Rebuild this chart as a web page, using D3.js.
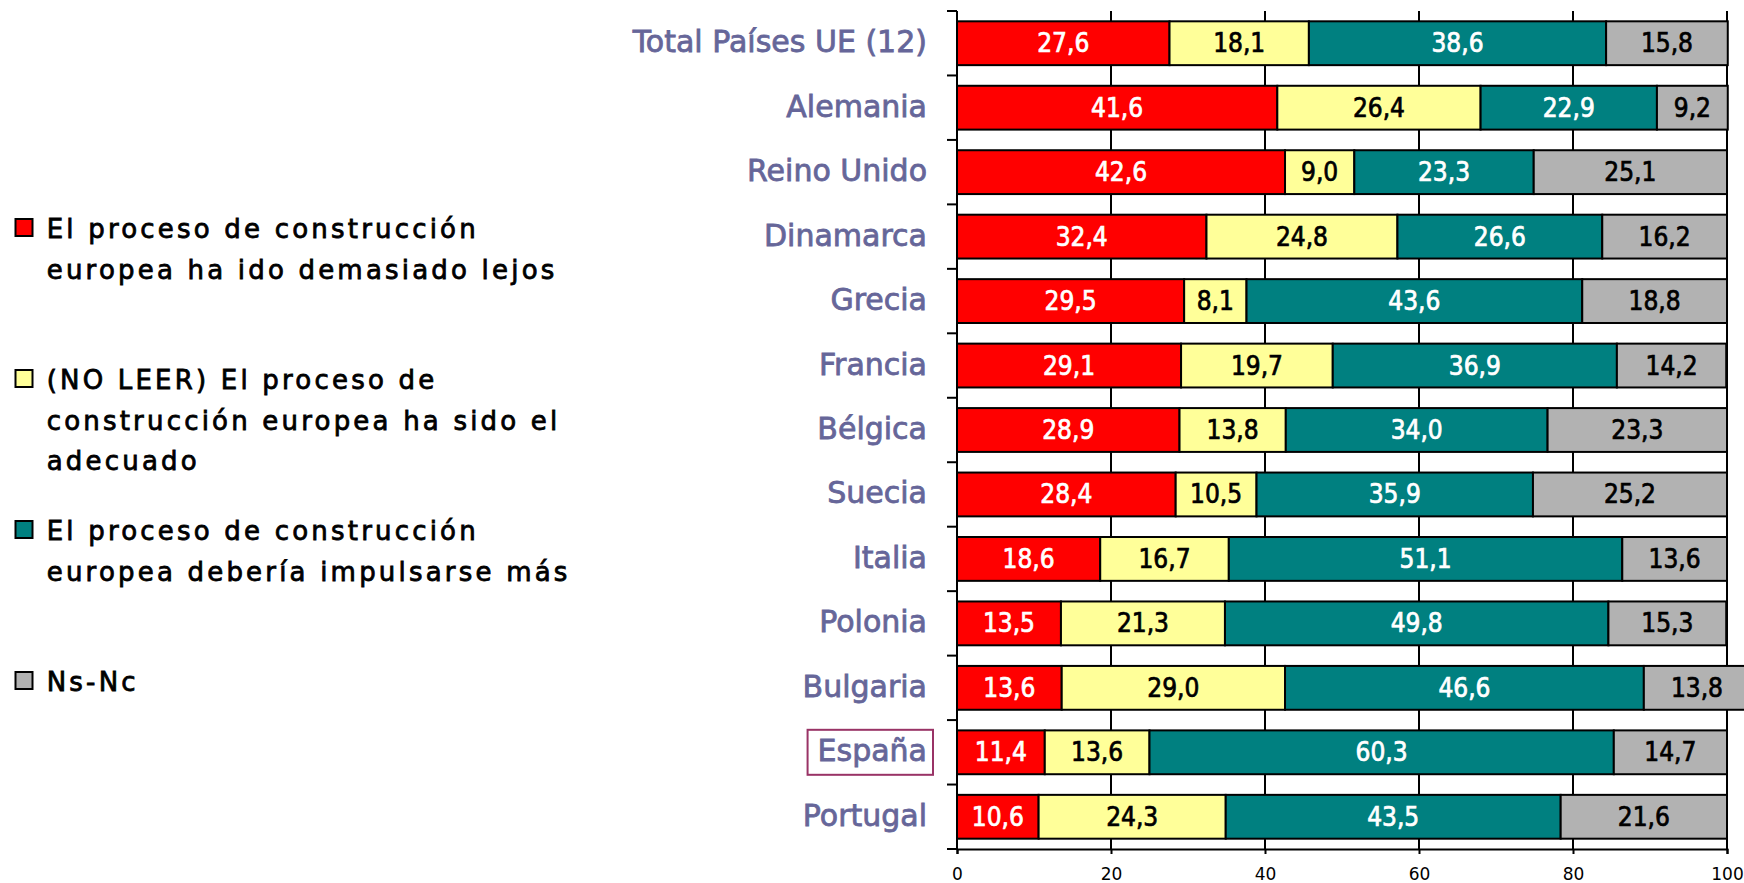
<!DOCTYPE html>
<html><head><meta charset="utf-8">
<script src="https://cdn.jsdelivr.net/npm/d3@7"></script>
<style>body{margin:0;background:#fff} svg{display:block}</style>
</head><body><svg id="chart" width="1744" height="883"></svg>
<script>
const categories = ["Total Países UE (12)","Alemania","Reino Unido","Dinamarca","Grecia","Francia","Bélgica","Suecia","Italia","Polonia","Bulgaria","España","Portugal"];
const demasiadoLejos = [27.6,41.6,42.6,32.4,29.5,29.1,28.9,28.4,18.6,13.5,13.6,11.4,10.6];
const adecuado       = [18.1,26.4,9.0,24.8,8.1,19.7,13.8,10.5,16.7,21.3,29.0,13.6,24.3];
const impulsarse     = [38.6,22.9,23.3,26.6,43.6,36.9,34.0,35.9,51.1,49.8,46.6,60.3,43.5];
const nsnc           = [15.8,9.2,25.1,16.2,18.8,14.2,23.3,25.2,13.6,15.3,13.8,14.7,21.6];
const seriesKeys = ["lejos","adecuado","impulsarse","nsnc"];
const legendLines = [
  ["El proceso de construcción","europea ha ido demasiado lejos"],
  ["(NO LEER) El proceso de","construcción europea ha sido el","adecuado"],
  ["El proceso de construcción","europea debería impulsarse más"],
  ["Ns-Nc"]
];
const xTicks = [0,20,40,60,80,100];
const highlighted = "España";

const colors = {lejos:"#FF0000", adecuado:"#FFFF99", impulsarse:"#008080", nsnc:"#B2B2B2"};
const textColors = {lejos:"#FFFFFF", adecuado:"#000000", impulsarse:"#FFFFFF", nsnc:"#000000"};
const fmt = v => v.toFixed(1).replace(".", ",");

const rows = categories.map((c,i)=>({cat:c, lejos:demasiadoLejos[i], adecuado:adecuado[i], impulsarse:impulsarse[i], nsnc:nsnc[i]}));
const stacked = d3.stack().keys(seriesKeys)(rows);

const svg = d3.select("#chart");
const x = d3.scaleLinear().domain([0,100]).range([957,1727]);
const y = d3.scaleBand().domain(categories).range([11,849]).paddingInner(0.32).paddingOuter(0.16);
const plotTop = y.range()[0], plotBottom = y.range()[1];

// gridlines
svg.append("g").selectAll("line").data(xTicks.slice(1)).join("line")
  .attr("x1", d=>x(d)).attr("x2", d=>x(d)).attr("y1", plotTop).attr("y2", plotBottom)
  .attr("stroke","#000").attr("stroke-width",2);

// bars
const layers = svg.append("g").selectAll("g").data(stacked).join("g");
layers.selectAll("rect").data(s=>s.map(d=>({key:s.key, d}))).join("rect")
  .attr("x", o=>x(o.d[0])).attr("width", o=>x(o.d[1])-x(o.d[0]))
  .attr("y", o=>y(o.d.data.cat)).attr("height", y.bandwidth())
  .attr("fill", o=>colors[o.key]).attr("stroke","#000").attr("stroke-width",2);

// value labels
layers.selectAll("text").data(s=>s.map(d=>({key:s.key, d}))).join("text")
  .attr("x", o=>(x(o.d[0])+x(o.d[1]))/2)
  .attr("y", o=>y(o.d.data.cat)+y.bandwidth()/2+9)
  .attr("text-anchor","middle")
  .attr("font-family","'DejaVu Sans Condensed','DejaVu Sans',sans-serif")
  .attr("font-stretch","condensed")
  .attr("font-size",26)
  .attr("fill", o=>textColors[o.key])
  .attr("stroke", o=>textColors[o.key]).attr("stroke-width",0.7)
  .text(o=>fmt(o.d.data[o.key]));

// left axis
svg.append("line").attr("x1",x(0)).attr("x2",x(0)).attr("y1",plotTop).attr("y2",plotBottom)
  .attr("stroke","#000").attr("stroke-width",2);
const bounds = d3.range(categories.length+1).map(i=>plotTop + i*y.step());
svg.append("g").selectAll("line").data(bounds).join("line")
  .attr("x1",x(0)-10).attr("x2",x(0)).attr("y1",d=>d).attr("y2",d=>d)
  .attr("stroke","#000").attr("stroke-width",2);

// bottom axis
const xAxis = svg.append("g").attr("transform",`translate(0,${plotBottom})`)
  .call(d3.axisBottom(x).tickValues(xTicks).tickSizeOuter(0).tickSize(5).tickPadding(14).tickFormat(d3.format("d")));
xAxis.select(".domain").attr("stroke","#000").attr("stroke-width",2);
xAxis.selectAll(".tick line").attr("stroke","#000").attr("stroke-width",2);
xAxis.selectAll(".tick text").attr("font-family","'DejaVu Sans',sans-serif").attr("font-size",17).attr("fill","#000");

// category labels
const catLabels = svg.append("g").selectAll("text").data(categories).join("text")
  .attr("x",927).attr("y",d=>y(d)+y.bandwidth()/2+9)
  .attr("text-anchor","end")
  .attr("font-family","'DejaVu Sans',sans-serif")
  .attr("font-size",30).attr("fill","#666699")
  .attr("stroke","#666699").attr("stroke-width",0.8)
  .text(d=>d);
catLabels.filter(d=>d===highlighted).each(function(){
  const b = this.getBBox();
  svg.append("rect").attr("x",b.x-10).attr("y",y(highlighted)+y.bandwidth()/2-22.5)
    .attr("width",b.width+16).attr("height",45)
    .attr("fill","none").attr("stroke","#993366").attr("stroke-width",2);
});

// legend
const legendTop = 238, itemStep = 151, lineH = 40.5;
const lg = svg.append("g").selectAll("g").data(seriesKeys).join("g")
  .attr("transform",(k,i)=>`translate(0,${legendTop + i*itemStep})`);
lg.append("rect").attr("x",15.5).attr("y",-19).attr("width",17).attr("height",17)
  .attr("fill",k=>colors[k]).attr("stroke","#000").attr("stroke-width",2);
lg.append("text").attr("font-family","'DejaVu Sans',sans-serif").attr("font-size",26)
  .attr("letter-spacing",3.2).attr("fill","#000").attr("stroke","#000").attr("stroke-width",0.8)
  .selectAll("tspan").data((k,i)=>legendLines[i]).join("tspan")
  .attr("x",46.7).attr("y",(d,j)=>j*lineH).text(d=>d);
</script>
</body></html>
